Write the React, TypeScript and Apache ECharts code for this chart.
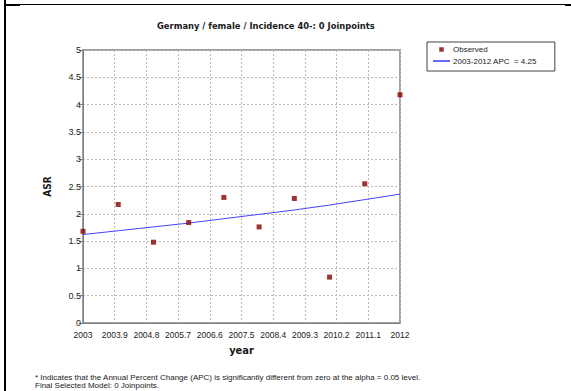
import React, { useEffect, useRef } from "react";
import * as echarts from "echarts";

const titleText = "Germany / female / Incidence 40-: 0 Joinpoints";
const years = [2003, 2004, 2005, 2006, 2007, 2008, 2009, 2010, 2011, 2012];
const observed = [1.68, 2.17, 1.48, 1.84, 2.3, 1.76, 2.28, 0.84, 2.55, 4.18];
const fitted = [1.62, 1.69, 1.76, 1.83, 1.91, 1.99, 2.07, 2.16, 2.26, 2.36];
const xTickLabels = ["2003", "2003.9", "2004.8", "2005.7", "2006.6", "2007.5", "2008.4", "2009.3", "2010.2", "2011.1", "2012"];
const observedName = "Observed";
const fitName = "2003-2012 APC  = 4.25";
const footnote1 = "* Indicates that the Annual Percent Change (APC) is significantly different from zero at the alpha = 0.05 level.";
const footnote2 = "Final Selected Model: 0 Joinpoints.";

const SANS = "'Liberation Sans Narrow', 'Liberation Sans', Arial, sans-serif";
const BOLD = "'DejaVu Sans Condensed', 'DejaVu Sans', Verdana, sans-serif";

export default function App() {
  const ref = useRef<HTMLDivElement>(null);
  useEffect(() => {
    document.body.style.margin = "0";
    const chart = echarts.init(ref.current!, null, { renderer: "svg" });
    const x0 = years[0];
    chart.setOption({
      animation: false,
      backgroundColor: "#ffffff",
      title: {
        text: titleText,
        left: 152,
        top: 16,
        textStyle: { fontFamily: BOLD, fontWeight: "bold", fontSize: 9.3, color: "#1a1a1a" },
      },
      legend: {
        orient: "vertical",
        left: 427,
        top: 42,
        padding: [2, 18, 4.5, 6],
        borderColor: "#404040",
        borderWidth: 1,
        itemWidth: 17,
        itemHeight: 4.5,
        itemGap: 0.5,
        textStyle: { fontFamily: SANS, fontSize: 8, color: "#222", lineHeight: 11, padding: [0, 0, 0, -2] },
        data: [
          { name: observedName, icon: "path://M0,0h1v1h-1z", itemStyle: { color: "#880000" } },
          { name: fitName, icon: "path://M0,0h17v1.2h-17z", itemStyle: { color: "#0000ff" } },
        ],
      },
      grid: {
        left: 83,
        top: 50,
        right: 171,
        bottom: 68,
        show: true,
        borderColor: "#a0a0a0",
        borderWidth: 2,
        backgroundColor: "transparent",
      },
      xAxis: {
        type: "value",
        min: 0,
        max: 9,
        interval: 0.9,
        name: "year",
        nameLocation: "middle",
        nameGap: 22,
        nameTextStyle: { fontFamily: BOLD, fontWeight: "bold", fontSize: 11, color: "#1a1a1a" },
        axisLine: { show: true, onZero: false, lineStyle: { color: "#808080", width: 1 } },
        axisTick: { show: false },
        axisLabel: {
          fontFamily: SANS,
          fontSize: 8.5,
          color: "#222",
          margin: 7,
          formatter: (v: number) => xTickLabels[Math.round(v / 0.9)] ?? "",
        },
        splitLine: { show: true, lineStyle: { color: "#b8b8b8", type: [2, 2], width: 1 } },
      },
      yAxis: {
        type: "value",
        min: 0,
        max: 5,
        interval: 0.5,
        name: "ASR",
        nameLocation: "middle",
        nameRotate: 90,
        nameGap: 31,
        nameTextStyle: { fontFamily: BOLD, fontWeight: "bold", fontSize: 10, color: "#1a1a1a" },
        axisLine: { show: true, onZero: false, lineStyle: { color: "#808080", width: 1 } },
        axisTick: { show: true, length: 4, lineStyle: { color: "#808080" } },
        axisLabel: { fontFamily: SANS, fontSize: 9, color: "#222", margin: 2 },
        splitLine: { show: true, lineStyle: { color: "#b8b8b8", type: [2, 2], width: 1 } },
      },
      series: [
        {
          name: fitName,
          type: "line",
          data: years.map((y, i) => [y - x0, fitted[i]]),
          symbol: "none",
          lineStyle: { color: "#4444ff", width: 1 },
          itemStyle: { color: "#0000ff" },
          z: 2,
        },
        {
          name: observedName,
          type: "scatter",
          data: years.map((y, i) => [y - x0, observed[i]]),
          symbol: "rect",
          symbolSize: 5,
          itemStyle: { color: "#880000" },
          z: 3,
        },
      ],
      graphic: [
        { type: "line", shape: { x1: 5, y1: 0, x2: 5, y2: 391 }, style: { stroke: "#000", lineWidth: 2 } },
        { type: "line", shape: { x1: 5, y1: 4.5, x2: 571, y2: 4.5 }, style: { stroke: "#000", lineWidth: 1 } },
        { type: "rect", shape: { x: 6, y: 4, width: 14, height: 2 }, style: { fill: "#000" } },
        { type: "rect", shape: { x: 565, y: 4, width: 6, height: 2 }, style: { fill: "#000" } },
        {
          type: "text",
          left: 35,
          top: 373,
          style: {
            text: footnote1 + "\n" + footnote2,
            fontFamily: SANS,
            fontSize: 8,
            lineHeight: 8.5,
            fill: "#222",
          },
        },
      ],
    });
    return () => chart.dispose();
  }, []);
  return <div ref={ref} style={{ width: 571, height: 391 }} />;
}
